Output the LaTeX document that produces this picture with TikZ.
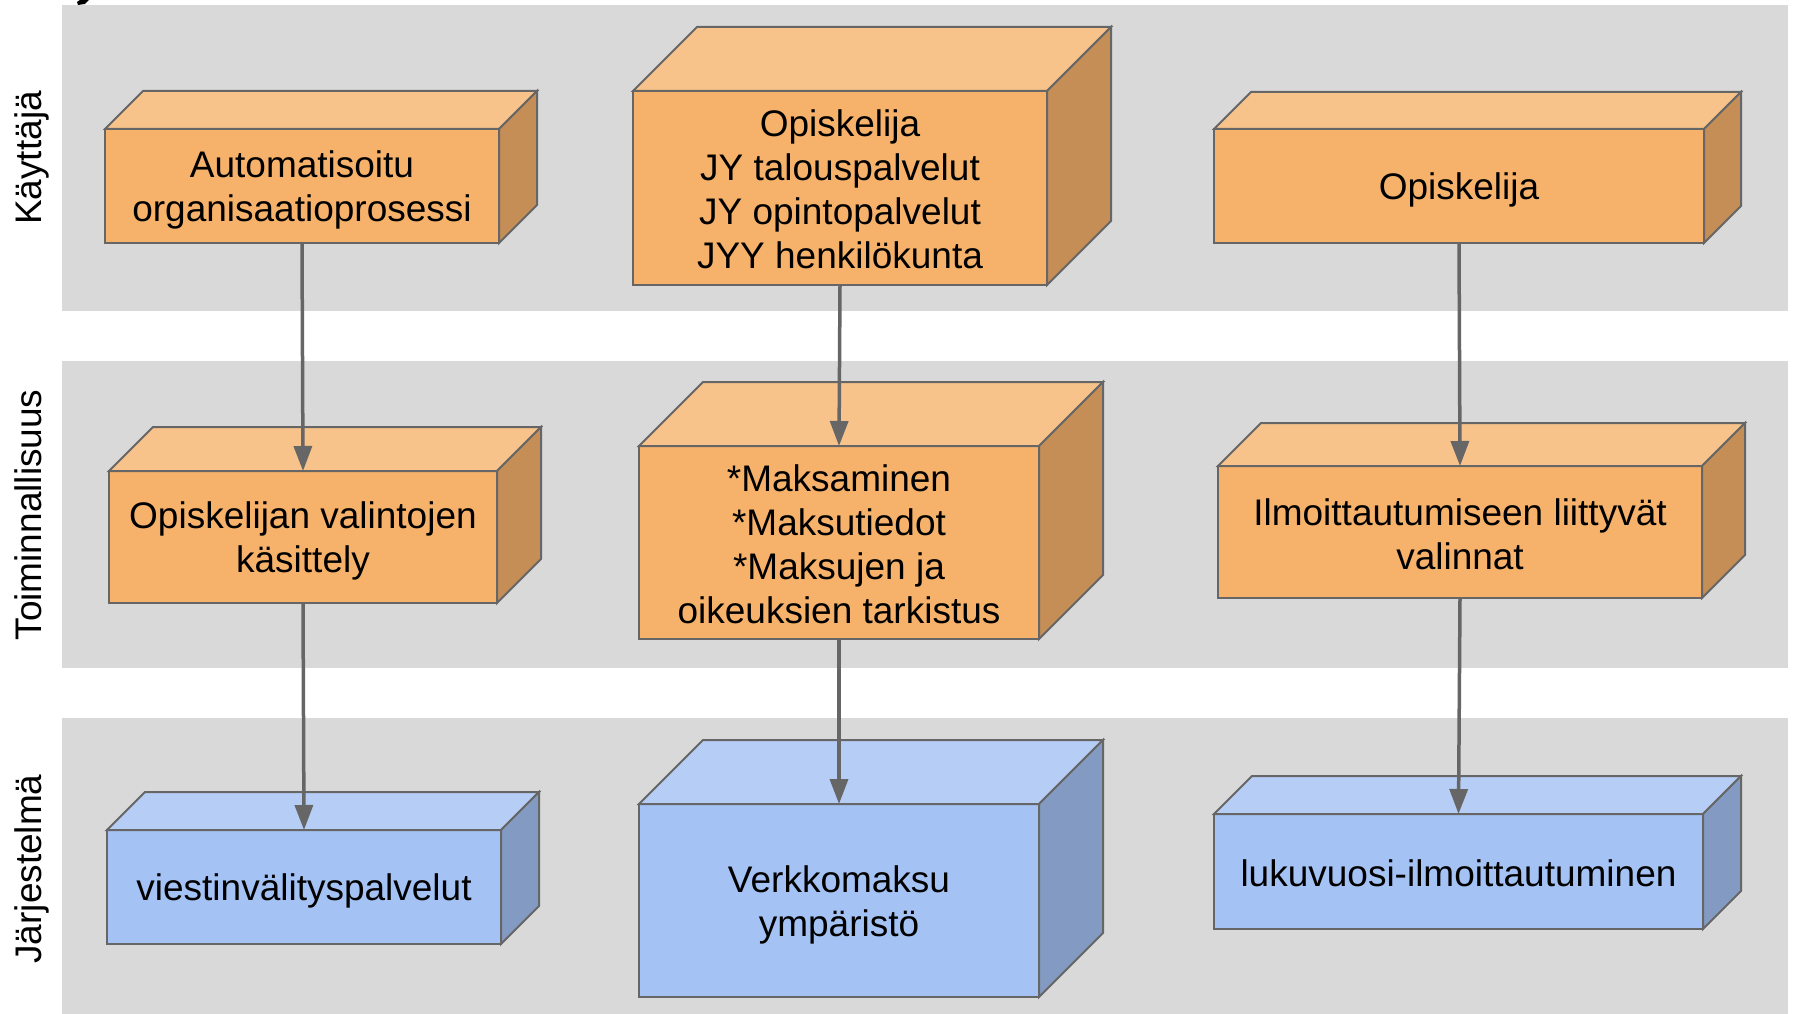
\documentclass[tikz,border=0pt]{standalone}
\usepackage{fontspec}
\setmainfont{Liberation Sans}
\usetikzlibrary{arrows.meta}
\definecolor{bandgray}{HTML}{D9D9D9}
\definecolor{edgegray}{HTML}{666666}
\definecolor{orfront}{HTML}{F6B26B}
\definecolor{ortop}{HTML}{F8C38A}
\definecolor{orside}{HTML}{C58E56}
\definecolor{blfront}{HTML}{A4C2F4}
\definecolor{bltop}{HTML}{B6CEF5}
\definecolor{blside}{HTML}{839BC3}
\tikzset{
  band/.style={fill=bandgray, draw=none},
  boxfront/.style={draw=edgegray, line width=2pt, rectangle, inner sep=0pt, outer sep=0pt},
  boxtext/.style={inner sep=0pt, align=center, font=\fontsize{37}{44}\selectfont, text=black},
  boxface/.style={draw=edgegray, line width=2pt, line join=miter},
  conn/.style={draw=edgegray, line width=3.5pt, -{Triangle[length=25pt,width=18pt]}},
  rowlabel/.style={rotate=90, anchor=base, font=\fontsize{37}{44}\selectfont, inner sep=0pt, text=black}
}
% name, cx, cy, w, h, depth, palette, text shift, text
\newcommand{\cubebox}[9]{%
  \node[boxfront, fill=#7front, minimum width=#4pt, minimum height=#5pt] (#1) at (#2,#3) {};
  \draw[boxface, fill=#7top] (#1.north west) -- ++(#6,-#6) -- ++(#4,0) -- (#1.north east) -- cycle;
  \draw[boxface, fill=#7side] (#1.north east) -- ++(#6,-#6) -- ++(0,#5) -- (#1.south east) -- cycle;
  \node[boxtext] (#1-t) at ([yshift=-#8pt]#1.center) {#9};
}
\begin{document}
\begin{tikzpicture}[x=1pt, y=-1pt]
  \fill[white] (0,0) rectangle (1793,1014);
  \useasboundingbox (0,0) rectangle (1793,1014);
  % bands
  \fill[band] (62,5) rectangle (1788,311);
  \fill[band] (62,361) rectangle (1788,668);
  \fill[band] (62,718) rectangle (1788,1014);
  % cut-off fragment at top left
  \fill[black] (80,0) -- (89,0) -- (85,4) -- (78,5) -- (77,2) -- cycle;
  % row labels
  \node[rowlabel] (lkay) at (41,158) {Käyttäjä};
  \node[rowlabel] (ltoi) at (41,515) {Toiminnallisuus};
  \node[rowlabel] (ljar) at (41,869) {Järjestelmä};
  % boxes
  \cubebox{b1}{302}{186}{394}{114}{38}{or}{4}{Automatisoitu\\organisaatioprosessi}
  \cubebox{b2}{840}{188}{414}{194}{64}{or}{1.5}{Opiskelija\\JY talouspalvelut\\JY opintopalvelut\\JYY henkilökunta}
  \cubebox{b3}{1459}{186}{490}{114}{37}{or}{4}{Opiskelija}
  \cubebox{b4}{303}{537}{388}{132}{44}{or}{4}{Opiskelijan valintojen\\käsittely}
  \cubebox{b5}{839}{542.5}{400}{193}{64}{or}{1.5}{*Maksaminen\\*Maksutiedot\\*Maksujen ja\\oikeuksien tarkistus}
  \cubebox{b6}{1460}{532}{484}{132}{43}{or}{2}{Ilmoittautumiseen liittyvät\\valinnat}
  \cubebox{b7}{304}{887}{394}{114}{38}{bl}{4}{viestinvälityspalvelut}
  \cubebox{b8}{839}{900.5}{400}{193}{64}{bl}{4}{Verkkomaksu\\ympäristö}
  \cubebox{b9}{1458.5}{871.5}{489}{115}{38}{bl}{2}{lukuvuosi-ilmoittautuminen}
  % connectors
  \draw[conn] (b1.south) -- (b4.north);
  \draw[conn] (b4.south) -- (b7.north);
  \draw[conn] (b2.south) -- (b5.north);
  \draw[conn] (b5.south) -- (b8.north);
  \draw[conn] (b3.south) -- (b6.north);
  \draw[conn] (b6.south) -- (b9.north);
\end{tikzpicture}
\end{document}
